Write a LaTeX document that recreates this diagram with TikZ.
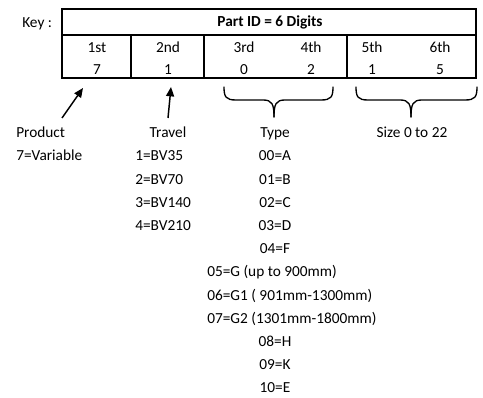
\documentclass[tikz,border=0pt]{standalone}
\usepackage{fontspec}
\setmainfont{Carlito}
\usetikzlibrary{arrows.meta}
\begin{document}
\begin{tikzpicture}[x=0.75pt,y=-0.75pt,
  txt/.style={inner sep=0pt, anchor=base, font=\fontsize{11.5}{14}\selectfont},
  txtw/.style={txt, anchor=base west},
  grid/.style={line width=0.8pt},
  arr/.style={line width=1.1pt, -{Triangle[length=7pt,width=6pt]}},
  brace/.style={line width=1pt, line cap=round}]
\useasboundingbox (0,0) rectangle (483,398);
% table
\draw[grid] (62,9) rectangle (476,78);
\draw[grid] (62,35) -- (476,35);
\draw[grid] (131,35) -- (131,78);
\draw[grid] (204,35) -- (204,78);
\draw[grid] (347,35) -- (347,78);
\node[txtw] (key) at (22,28) {Key :};
\node[txt] (partid) at (270,27) {\bfseries Part ID = 6 Digits};
\node[txt] (c1) at (97,53) {1st};
\node[txt] (c2) at (168,53) {2nd};
\node[txt] (c3) at (244,53) {3rd};
\node[txt] (c4) at (311,53) {4th};
\node[txt] (c5) at (372,53) {5th};
\node[txt] (c6) at (440,53) {6th};
\node[txt] (v1) at (97,75) {7};
\node[txt] (v2) at (168,75) {1};
\node[txt] (v3) at (244,75) {0};
\node[txt] (v4) at (311,75) {2};
\node[txt] (v5) at (372,75) {1};
\node[txt] (v6) at (440,75) {5};
% arrows
\coordinate (pa) at (62,118);
\coordinate (pt) at (83,88);
\coordinate (ta) at (168,118);
\coordinate (tt) at (171,87);
\draw[arr] (pa) -- (pt);
\draw[arr] (ta) -- (tt);
% braces
\coordinate (b1l) at (224,87);
\coordinate (b1r) at (333,87);
\coordinate (b1t) at (274,117);
\draw[brace] (b1l) .. controls (224,97) and (226,100) .. (236,100) -- (263,100)
  .. controls (272,100) and (274,104) .. (b1t);
\draw[brace] (b1r) .. controls (333,97) and (331,100) .. (321,100) -- (285,100)
  .. controls (276,100) and (274,104) .. (b1t);
\coordinate (b2l) at (356,87);
\coordinate (b2r) at (477,87);
\coordinate (b2t) at (411,117);
\draw[brace] (b2l) .. controls (356,97) and (358,100) .. (368,100) -- (400,100)
  .. controls (409,100) and (411,104) .. (b2t);
\draw[brace] (b2r) .. controls (477,97) and (475,100) .. (465,100) -- (422,100)
  .. controls (413,100) and (411,104) .. (b2t);
% labels
\node[txtw] (prod) at (16,138) {Product};
\node[txtw] (prodv) at (16,161) {7=Variable};
\node[txt] (trav) at (168,138) {Travel};
\node[txtw] (t1) at (135,161) {1=BV35};
\node[txtw] (t2) at (135,184.2) {2=BV70};
\node[txtw] (t3) at (135,207.4) {3=BV140};
\node[txtw] (t4) at (135,230.6) {4=BV210};
\node[txt] (type) at (275,138) {Type};
\node[txt] (size) at (412,138) {Size 0 to 22};
\node[txt] (y0) at (275,161) {00=A};
\node[txt] (y1) at (275,184.2) {01=B};
\node[txt] (y2) at (275,207.4) {02=C};
\node[txt] (y3) at (275,230.6) {03=D};
\node[txt] (y4) at (275,253.8) {04=F};
\node[txtw] (y5) at (207,277) {05=G (up to 900mm)};
\node[txtw] (y6) at (207,300.2) {06=G1 ( 901mm-1300mm)};
\node[txtw] (y7) at (207,323.4) {07=G2 (1301mm-1800mm)};
\node[txt] (y8) at (275,346.6) {08=H};
\node[txt] (y9) at (275,369.8) {09=K};
\node[txt] (y10) at (275,393) {10=E};
\end{tikzpicture}
\end{document}
